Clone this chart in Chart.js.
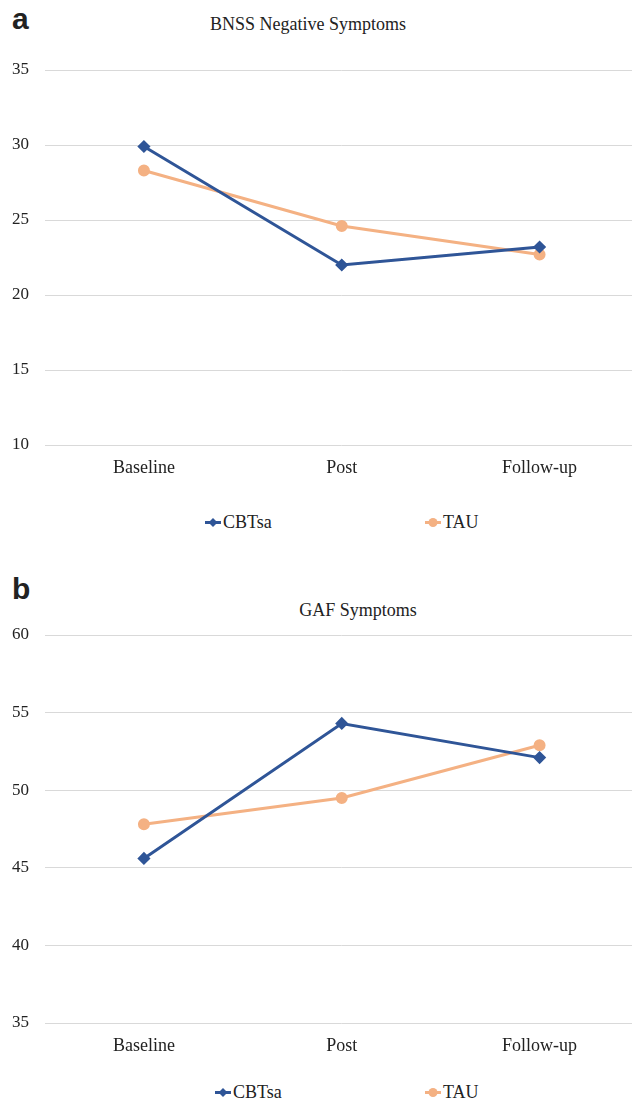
<!DOCTYPE html>
<html lang="en">
<head>
  <meta charset="UTF-8" />
  <title>BNSS and GAF Symptoms</title>
  <script src="https://cdn.jsdelivr.net/npm/chart.js"></script>
  <style>
    body { margin: 0; background: #fff; overflow: hidden; }
    #page { position: relative; width: 632px; height: 1101px; overflow: hidden; font-family: "Liberation Serif", "Times New Roman", serif; color: #222; }
    .panel { position: absolute; left: 0; }
    .letter { position: absolute; font-family: "Liberation Sans", Arial, sans-serif; font-weight: bold; font-size: 30px; color: #222; line-height: 1; }
    .title { position: absolute; font-size: 18px; color: #222; white-space: nowrap; transform: translate(-50%, -50%); }
    .legend { position: absolute; font-size: 18px; color: #222; display: flex; align-items: center; transform: translateY(-50%); }
    .legend svg { margin-right: 2px; }
  </style>
</head>
<body>
<div id="page">
  <div class="letter" style="left:12px; top:4px;">a</div>
  <div class="title" style="left:308px; top:24px;">BNSS Negative Symptoms</div>
  <div class="panel" style="top:0;"><canvas id="chartA" width="646" height="500"></canvas></div>

  <div class="letter" style="left:12px; top:574px;">b</div>
  <div class="title" style="left:358px; top:610px;">GAF Symptoms</div>
  <div class="panel" style="top:560px;"><canvas id="chartB" width="646" height="503"></canvas></div>

  <div class="legend" style="left:205px; top:522px;" id="legA1"></div>
  <div class="legend" style="left:425px; top:522px;" id="legA2"></div>
  <div class="legend" style="left:215px; top:1092px;" id="legB1"></div>
  <div class="legend" style="left:425px; top:1092px;" id="legB2"></div>
</div>

<script>
  const timepoints = ['Baseline', 'Post', 'Follow-up'];
  const seriesNames = ['CBTsa', 'TAU'];

  // panel a: BNSS negative symptoms
  const bnssCBTsa = [29.9, 22.0, 23.2];
  const bnssTAU = [28.3, 24.6, 22.7];
  const bnssTicks = [10, 15, 20, 25, 30, 35];

  // panel b: GAF
  const gafCBTsa = [45.6, 54.3, 52.1];
  const gafTAU = [47.8, 49.5, 52.9];
  const gafTicks = [35, 40, 45, 50, 55, 60];

  const blue = '#2f5597';
  const orange = '#f4b183';
  const serif = 'Liberation Serif';

  function makeChart(id, cbt, tau, ticks, padTop, padBottom) {
    const ctx = document.getElementById(id).getContext('2d');
    return new Chart(ctx, {
      type: 'line',
      data: {
        labels: timepoints,
        datasets: [
          { label: seriesNames[0], data: cbt, borderColor: blue, backgroundColor: blue,
            borderWidth: 3, pointStyle: 'rectRot', pointRadius: 4.5, tension: 0 },
          { label: seriesNames[1], data: tau, borderColor: orange, backgroundColor: orange,
            borderWidth: 3, pointStyle: 'circle', pointRadius: 4.5, tension: 0 }
        ]
      },
      options: {
        responsive: false,
        animation: false,
        layout: { padding: { top: padTop, bottom: padBottom, left: 0, right: 1 } },
        plugins: {
          legend: { display: false },
          title: { display: false },
          tooltip: { enabled: false }
        },
        scales: {
          x: {
            offset: true,
            grid: { display: false },
            border: { display: false },
            ticks: { padding: 4, color: '#222', font: { family: serif, size: 18 } },
            afterFit: s => { s.height = 40; }
          },
          y: {
            min: ticks[0],
            max: ticks[ticks.length - 1],
            afterBuildTicks: s => { s.ticks = ticks.map(v => ({ value: v })); },
            grid: { color: '#d9d9d9', lineWidth: 1, drawTicks: false },
            border: { display: false },
            ticks: { padding: 16, color: '#222', font: { family: serif, size: 17 } },
            afterFit: s => { s.width = 45; }
          }
        }
      }
    });
  }

  makeChart('chartA', bnssCBTsa, bnssTAU, bnssTicks, 70, 15);
  makeChart('chartB', gafCBTsa, gafTAU, gafTicks, 75, 0);

  function legendItem(elId, name, color, marker) {
    const shape = marker === 'diamond'
      ? `<polygon points="8,1.5 12.5,6 8,10.5 3.5,6" fill="${color}"/>`
      : `<circle cx="8" cy="6" r="4.5" fill="${color}"/>`;
    document.getElementById(elId).innerHTML =
      `<svg width="16" height="12"><line x1="0" y1="6" x2="16" y2="6" stroke="${color}" stroke-width="3"/>${shape}</svg>${name}`;
  }
  legendItem('legA1', seriesNames[0], blue, 'diamond');
  legendItem('legA2', seriesNames[1], orange, 'circle');
  legendItem('legB1', seriesNames[0], blue, 'diamond');
  legendItem('legB2', seriesNames[1], orange, 'circle');
</script>
</body>
</html>
